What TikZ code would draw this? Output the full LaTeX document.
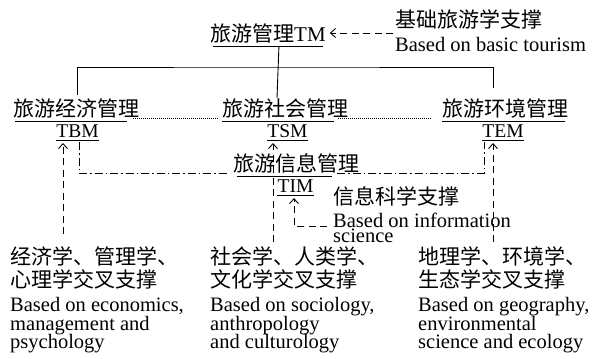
\documentclass[tikz,border=0pt]{standalone}
\usepackage{fontspec}
\setmainfont{Liberation Serif}
\newfontfamily\cjk{Noto Sans CJK SC}
\usetikzlibrary{arrows.meta}
\tikzset{
  txt/.style={anchor=base west, inner sep=0pt, font=\fontsize{21}{21}\selectfont},
  ent/.style={anchor=base west, inner sep=0pt, font=\fontsize{20.5}{20.5}\selectfont},
  lbl/.style={anchor=base, inner sep=0pt, font=\fontsize{19.5}{19.5}\selectfont},
  ul/.style={line width=0.7pt},
  tree/.style={line width=0.9pt},
  dsh/.style={line width=0.8pt, dash pattern=on 7pt off 4.5pt},
  dashdot/.style={line width=0.7pt, dash pattern=on 8pt off 3pt on 1.5pt off 3pt},
  dots/.style={line width=0.7pt, dash pattern=on 0.8pt off 1.2pt},
  tip/.style={-{Straight Barb[length=5pt,width=9pt,line width=0.9pt]}},
}
\begin{document}
\begin{tikzpicture}[x=1pt,y=-1pt]
\useasboundingbox (0,0) rectangle (598,359);
% top
\node[txt] (tm) at (210,41) {{\cjk 旅游管理}TM};
\node[txt] (basic) at (395,27) {\cjk 基础旅游学支撑};
\node[ent] (basicEn) at (395,51) {Based on basic tourism};
% row 2
\node[txt] (tbmCn) at (13,116) {\cjk 旅游经济管理};
\node[lbl] (tbm) at (77.5,137) {TBM};
\node[txt] (tsmCn) at (222,116) {\cjk 旅游社会管理};
\node[lbl] (tsm) at (287.5,137) {TSM};
\node[txt] (temCn) at (442,116) {\cjk 旅游环境管理};
\node[lbl] (tem) at (503,137) {TEM};
% information
\node[txt] (timCn) at (233,171) {\cjk 旅游信息管理};
\node[lbl] (tim) at (295.5,192) {TIM};
\node[txt] (info) at (333,204) {\cjk 信息科学支撑};
\node[anchor=north west, inner sep=0pt, align=left,
      font=\fontsize{20.5}{15}\selectfont] (infoEn) at (333,213)
  {Based on information\\science};
% bottom blocks
\node[txt] (l1) at (10,264) {\cjk 经济学、管理学、};
\node[txt] (l2) at (10,287) {\cjk 心理学交叉支撑};
\node[ent] (l3) at (10,311.5) {Based on economics,};
\node[ent] (l4) at (10,330) {management and};
\node[ent] (l5) at (10,348.5) {psychology};
\node[txt] (m1) at (210,264) {\cjk 社会学、人类学、};
\node[txt] (m2) at (210,287) {\cjk 文化学交叉支撑};
\node[ent] (m3) at (210,311.5) {Based on sociology,};
\node[ent] (m4) at (210,330) {anthropology};
\node[ent] (m5) at (210,348.5) {and culturology};
\node[txt] (r1) at (418,264) {\cjk 地理学、环境学、};
\node[txt] (r2) at (418,287) {\cjk 生态学交叉支撑};
\node[ent] (r3) at (418,311.5) {Based on geography,};
\node[ent] (r4) at (418,330) {environmental};
\node[ent] (r5) at (418,348.5) {science and ecology};
% underlines
\draw[ul] ([shift={(3,5)}]tm.base west) -- ([shift={(-3,5)}]tm.base east);
\draw[ul] ([shift={(2,5)}]tbmCn.base west) -- ([shift={(-12,5)}]tbmCn.base east);
\draw[ul] ([shift={(0,5)}]tsmCn.base west) -- ([shift={(-14,5)}]tsmCn.base east);
\draw[ul] ([shift={(0,5)}]temCn.base west) -- ([shift={(-3,5)}]temCn.base east);
\draw[ul] ([shift={(4,5)}]timCn.base west) -- ([shift={(-27,5)}]timCn.base east);
\draw[ul] ([shift={(0,3)}]tbm.base west) -- ([shift={(0,3)}]tbm.base east);
\draw[ul] ([shift={(0,3)}]tsm.base west) -- ([shift={(0,3)}]tsm.base east);
\draw[ul] ([shift={(0,3)}]tem.base west) -- ([shift={(0,3)}]tem.base east);
\draw[ul] ([shift={(0,3)}]tim.base west) -- ([shift={(0,3)}]tim.base east);
% tree
\draw[tree] ([shift={(11,5)}]tm.base) -- ([shift={(55,-18)}]tsmCn.base west);
\draw[tree] ([shift={(64,-21)}]tbmCn.base west) |- ([shift={(0,26)}]tm.base)
  -| ([shift={(51,-28)}]temCn.base west);
% dotted links
\draw[dots] ([shift={(-6,2)}]tbmCn.base east) -- ([shift={(-4,2)}]tsmCn.base west);
\draw[dots] ([shift={(-10,2)}]tsmCn.base east) -- ([shift={(-10,2)}]temCn.base west);
% dash-dot links
\draw[dashdot] ([shift={(1.5,5)}]tbm.base) |- ([shift={(-6,2)}]timCn.base west);
\draw[dashdot] ([shift={(-22,2)}]timCn.base east) -| ([shift={(-19,5)}]tem.base);
% dashed arrows
\draw[dsh,tip] ([shift={(-2,6)}]basic.base west) -- ([shift={(4,-8)}]tm.base east);
\draw[dsh,tip] ([shift={(53,-30)}]l1.base west) -- ([shift={(-14.5,6)}]tbm.base);
\draw[dsh,tip] ([shift={(63,-22)}]m1.base west) -- ([shift={(-14.5,6)}]tsm.base);
\draw[dsh,tip] ([shift={(75,-22)}]r1.base west) -- ([shift={(-10,6)}]tem.base);
\draw[dsh,tip] ([shift={(-6,13)}]infoEn.north west) -| ([shift={(-1.5,6)}]tim.base);
\end{tikzpicture}
\end{document}
